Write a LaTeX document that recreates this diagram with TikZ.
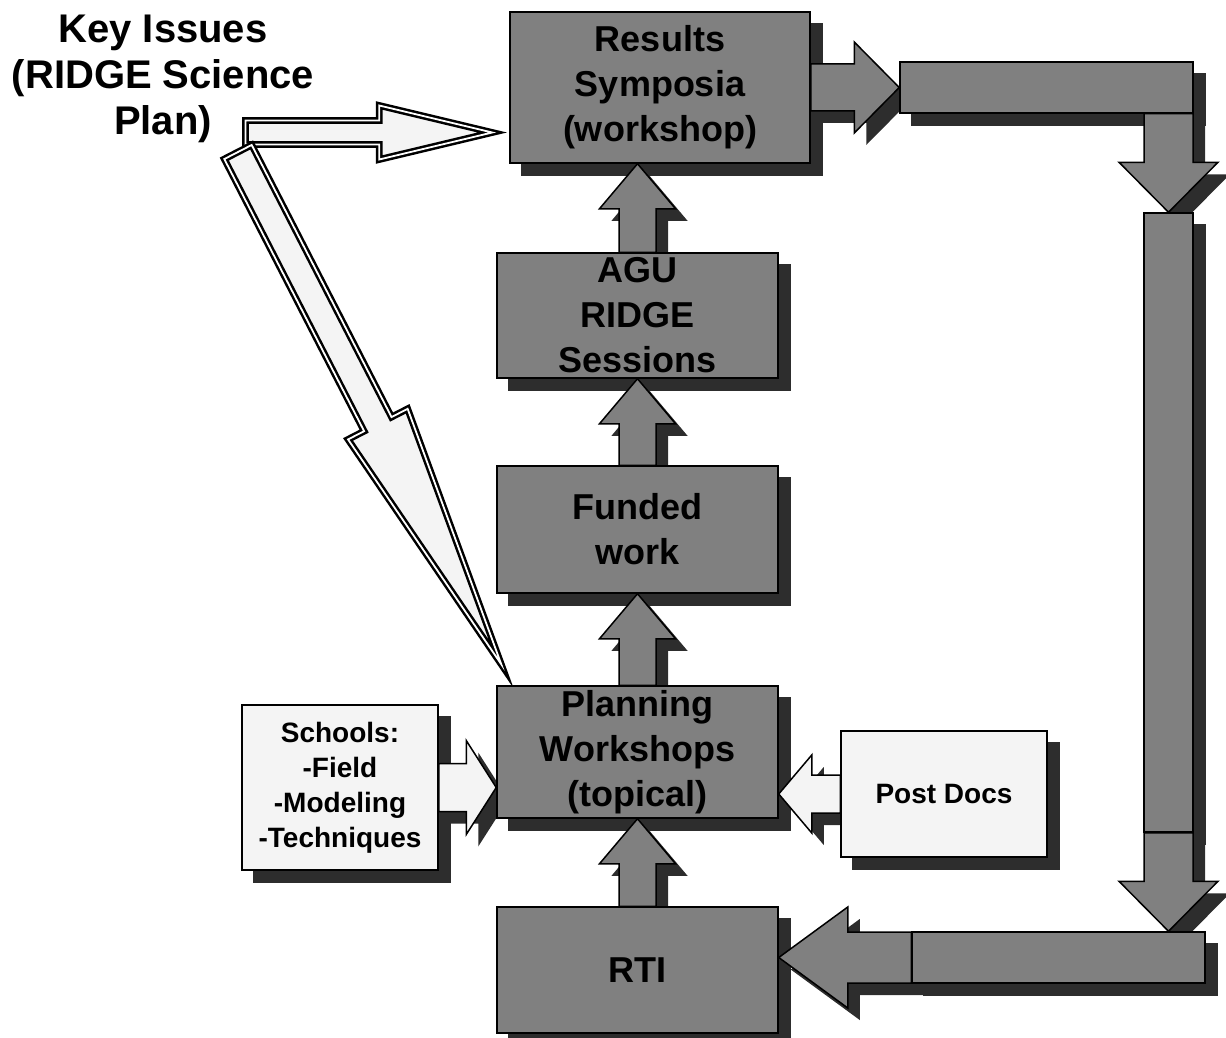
\documentclass[tikz,border=0pt]{standalone}
\usepackage{fontspec}
\setmainfont{Liberation Sans}
\usetikzlibrary{calc,shadows}

\definecolor{boxgray}{HTML}{808080}
\definecolor{shadowgray}{HTML}{2D2D2D}
\definecolor{paleshade}{HTML}{F4F4F4}

\pgfdeclarelayer{back}
\pgfdeclarelayer{mid}
\pgfsetlayers{back,mid,main}

% block arrow: [style]{start}{tip}{half shaft}{half head}{head length}
\newcommand{\blockarrow}[6][]{%
  \coordinate (ba-s) at (#2);
  \coordinate (ba-t) at (#3);
  \coordinate (ba-h) at ($(ba-t)!#6!(ba-s)$);
  \draw[#1] ($(ba-s)!#4!90:(ba-t)$) -- ($(ba-h)!#4!90:(ba-t)$)
    -- ($(ba-h)!#5!90:(ba-t)$) -- (ba-t) -- ($(ba-h)!#5!-90:(ba-t)$)
    -- ($(ba-h)!#4!-90:(ba-t)$) -- ($(ba-s)!#4!-90:(ba-t)$) -- cycle;}

\begin{document}
\begin{tikzpicture}[x=1pt,y=-1pt,
    box/.style={draw=black, line width=1.5pt, fill=boxgray, inner sep=0pt,
      align=center, font=\fontsize{36}{45}\selectfont\bfseries},
    bar/.style={draw=black, line width=1.5pt, fill=boxgray, inner sep=0pt},
    palebox/.style={draw=black, line width=1.5pt, fill=paleshade, inner sep=0pt,
      align=center, font=\fontsize{28}{35}\selectfont\bfseries},
    blk/.style={draw=black, line width=1.5pt, fill=boxgray,
      drop shadow={shadow xshift=12pt, shadow yshift=-12pt, fill=shadowgray, opacity=1}},
    paleblk/.style={blk, fill=paleshade},
    hollow/.style={draw=black, line width=2.5pt, double=white,
      double distance=1.8pt, fill=paleshade}]
    \useasboundingbox (0,0) rectangle (1226,1038);

    % the boxes of the cycle
    \node[box, minimum width=300pt, minimum height=151pt] (results) at (660,87.5)
      {Results\\Symposia\\(workshop)};
    \node[box, minimum width=281pt, minimum height=125pt] (agu) at (637.5,315.5)
      {AGU\\RIDGE\\Sessions};
    \node[box, minimum width=281pt, minimum height=127pt] (funded) at (637.5,529.5)
      {Funded\\work};
    \node[box, minimum width=281pt, minimum height=132pt] (planning) at (637.5,752)
      {Planning\\Workshops\\(topical)};
    \node[box, minimum width=281pt, minimum height=126pt] (rti) at (637.5,970) {RTI};

    % side inputs
    \node[palebox, minimum width=196pt, minimum height=165pt] (schools) at (340,787.5)
      {Schools:\\-Field\\-Modeling\\-Techniques};
    \node[palebox, minimum width=206pt, minimum height=126pt] (postdocs) at (944,794)
      {Post Docs};
    \node[align=center, font=\fontsize{40}{46}\selectfont\bfseries] (key) at (163,79)
      {Key Issues\\(RIDGE Science\\Plan)};

    % the way back round on the right
    \node[bar, minimum width=293pt, minimum height=51pt] (topbar) at (1046.5,87.5) {};
    \node[bar, minimum width=49pt, minimum height=619pt] (rightbar) at (1168.5,522.5) {};
    \node[bar, minimum width=293pt, minimum height=51pt] (botbar) at (1058.5,957.5) {};

    % box shadows
    \begin{pgfonlayer}{back}
      \foreach \n in {results,agu,funded,planning,rti,schools,postdocs,topbar,rightbar,botbar}
        \fill[shadowgray] ($(\n.north west)+(12,12)$) rectangle ($(\n.south east)+(12,12)$);
    \end{pgfonlayer}

    \begin{pgfonlayer}{mid}
      % upward arrows
      \blockarrow[blk]{agu.north}{agu.north |- results.south}{18.5pt}{38pt}{45pt}
      \blockarrow[blk]{funded.north}{agu.south}{18.5pt}{38pt}{45pt}
      \blockarrow[blk]{planning.north}{funded.south}{18.5pt}{38pt}{45pt}
      \blockarrow[blk]{rti.north}{planning.south}{18.5pt}{38pt}{45pt}

      % round the right side
      \blockarrow[blk]{results.east |- topbar.west}{topbar.west}{23.5pt}{45.5pt}{45pt}
      \blockarrow[blk]{rightbar.north |- topbar.south}{rightbar.north}{24.5pt}{49.5pt}{50pt}
      \blockarrow[blk]{rightbar.south}{rightbar.south |- botbar.north}{24.5pt}{49.5pt}{50pt}
      \blockarrow[blk]{botbar.west}{rti.east |- botbar.west}{25.5pt}{50.5pt}{69pt}

      % into the planning workshops
      \blockarrow[paleblk]{schools.east}{planning.west |- schools.east}{24pt}{47pt}{30pt}
      \blockarrow[paleblk]{postdocs.west}{planning.east |- postdocs.west}{19pt}{39pt}{33pt}

      % key issues
      \coordinate (keyright) at (245.4,132.5);
      \coordinate (keydown) at (238,152);
      \blockarrow[hollow]{keyright}{$(results.west |- keyright)+(-17,0)$}{12pt}{27pt}{113pt}
      \blockarrow[hollow]{keydown}{$(planning.north west)+(5,-21)$}{15.4pt}{33.5pt}{270pt}
    \end{pgfonlayer}
\end{tikzpicture}
\end{document}
